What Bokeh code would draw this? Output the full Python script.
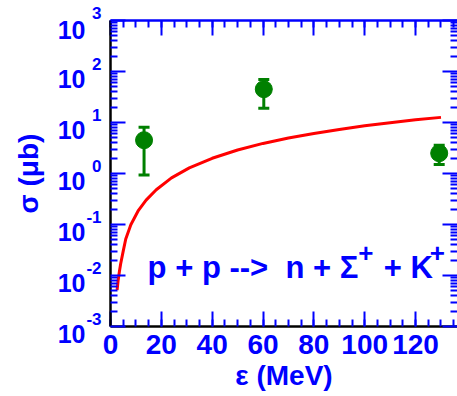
import numpy as np
from bokeh.plotting import figure
from bokeh.models import (Range1d, LogAxis, LinearAxis, FixedTicker, SingleIntervalTicker,
                          Label, ColumnDataSource, Whisker, TeeHead)
from bokeh.embed import file_html
from bokeh.resources import INLINE

# ---------------- data ----------------
curve_e = [2.6, 3.0, 3.5, 4, 5, 6, 8, 11, 14, 18, 24, 31, 40, 50, 60, 70, 80, 90, 100, 110, 120, 130]
curve_s = [0.0052, 0.008, 0.012, 0.017, 0.030, 0.052, 0.099, 0.19, 0.30, 0.48, 0.82, 1.29,
           1.99, 2.89, 3.89, 4.97, 6.1, 7.3, 8.6, 9.9, 11.3, 12.6]

pts_e = [13.2, 60.3, 129.3]
pts_s = [4.5, 45.0, 2.5]
pts_lo = [0.93, 19.0, 1.5]
pts_hi = [8.1, 70.0, 3.6]

y_tick_values = [1e-3, 1e-2, 1e-1, 1e0, 1e1, 1e2, 1e3]
y_tick_base = "10"
y_tick_exponents = ["-3", "-2", "-1", "0", "1", "2", "3"]

x_title = "ε (MeV)"
y_title = "σ (μb)"
reaction_main = "p + p -->\u00a0 n + Σ"
reaction_sup = "+"
reaction_tail = "+ K"

# ---------------- style ----------------
BLUE = "#0000ff"
GREEN = "#008000"
RED = "#ff0000"
FONT = "Liberation Sans"

X_END = 136.5

p = figure(width=457, height=396, output_backend="svg", toolbar_location=None,
           x_range=Range1d(0, X_END), y_range=Range1d(1e-3, 1e3), y_axis_type="log",
           min_border_left=110, min_border_right=0, min_border_top=20, min_border_bottom=70)
p.grid.visible = False
p.outline_line_color = None
p.background_fill_color = "white"
p.border_fill_color = "white"

minor_y = [m * d for d in y_tick_values[:-1] for m in range(2, 10)]

def style_ticks(ax):
    ax.major_tick_in = 15
    ax.major_tick_out = 0
    ax.minor_tick_in = 7
    ax.minor_tick_out = 0
    ax.major_tick_line_color = BLUE
    ax.minor_tick_line_color = BLUE
    ax.major_tick_line_width = 2
    ax.minor_tick_line_width = 2

def hide_labels(ax):
    ax.major_label_text_font_size = "0px"
    ax.major_label_standoff = 0
    ax.major_label_text_alpha = 0

# left axis: ticks + exponents (raised: empty second line)
ya = p.yaxis[0]
ya.ticker = FixedTicker(ticks=y_tick_values, minor_ticks=minor_y)
ya.axis_line_color = "black"
ya.axis_line_width = 2.5
style_ticks(ya)
ya.major_label_overrides = {v: e + "\n" for v, e in zip(y_tick_values, y_tick_exponents)}
ya.major_label_text_font = FONT
ya.major_label_text_font_style = "bold"
ya.major_label_text_font_size = "17px"
ya.major_label_text_color = BLUE
ya.major_label_text_line_height = 0.7
ya.major_label_standoff = 9

# left axis: the "10" bases (lowered: empty first line)
yb = LogAxis(ticker=FixedTicker(ticks=y_tick_values))
yb.major_label_overrides = {v: "\n" + y_tick_base for v in y_tick_values}
yb.axis_line_color = None
yb.major_tick_line_color = None
yb.minor_tick_line_color = None
yb.major_tick_in = 0
yb.major_tick_out = 0
yb.minor_tick_in = 0
yb.minor_tick_out = 0
yb.major_label_standoff = -2
yb.major_label_text_font = FONT
yb.major_label_text_font_style = "bold"
yb.major_label_text_font_size = "25px"
yb.major_label_text_color = BLUE
yb.major_label_text_line_height = 0.56
yb.axis_label = y_title
yb.axis_label_text_font = FONT
yb.axis_label_text_font_style = "bold"
yb.axis_label_text_font_size = "28px"
yb.axis_label_text_color = BLUE
yb.axis_label_standoff = 11
p.add_layout(yb, "left")

# bottom axis
xa = p.xaxis[0]
xa.ticker = SingleIntervalTicker(interval=20, num_minor_ticks=4)
xa.axis_line_color = "black"
xa.axis_line_width = 2.5
style_ticks(xa)
xa.major_label_text_font = FONT
xa.major_label_text_font_style = "bold"
xa.major_label_text_font_size = "28px"
xa.major_label_text_color = BLUE
xa.major_label_standoff = 8
xa.axis_label = x_title
xa.axis_label_text_font = FONT
xa.axis_label_text_font_style = "bold"
xa.axis_label_text_font_size = "28px"
xa.axis_label_text_color = BLUE
xa.axis_label_standoff = 3

# top axis
xt = LinearAxis(ticker=SingleIntervalTicker(interval=20, num_minor_ticks=4))
xt.axis_line_color = BLUE
xt.axis_line_width = 2.5
style_ticks(xt)
hide_labels(xt)
xt.major_label_overrides = {v: "" for v in range(0, 160, 20)}
p.add_layout(xt, "above")

# right axis (its spine lies beyond the cropped edge)
yr = LogAxis(ticker=FixedTicker(ticks=y_tick_values, minor_ticks=minor_y))
yr.axis_line_color = None
style_ticks(yr)
hide_labels(yr)
yr.major_label_overrides = {v: "" for v in y_tick_values}
p.add_layout(yr, "right")

# curve
p.line(curve_e, curve_s, line_color=RED, line_width=3)

# data points with error bars
src = ColumnDataSource(dict(e=pts_e, s=pts_s, lo=pts_lo, hi=pts_hi))
p.add_layout(Whisker(source=src, base="e", lower="lo", upper="hi", dimension="height",
                     line_color=GREEN, line_width=3,
                     upper_head=TeeHead(size=11, line_color=GREEN, line_width=3),
                     lower_head=TeeHead(size=11, line_color=GREEN, line_width=3)))
p.scatter("e", "s", source=src, size=17, color=GREEN)

# reaction text
base_y = 0.0146
common = dict(text_font=FONT, text_font_style="bold", text_color=BLUE, text_baseline="alphabetic",
              text_align="left")
p.add_layout(Label(x=14.6, y=base_y, text=reaction_main, text_font_size="31px", **common))
p.add_layout(Label(x=97.5, y=base_y, y_offset=14, text=reaction_sup, text_font_size="26px", **common))
p.add_layout(Label(x=107.5, y=base_y, text=reaction_tail, text_font_size="31px", **common))
p.add_layout(Label(x=125.6, y=base_y, y_offset=14, text=reaction_sup, text_font_size="26px", **common))

open("out.html", "w").write(file_html(p, INLINE))
